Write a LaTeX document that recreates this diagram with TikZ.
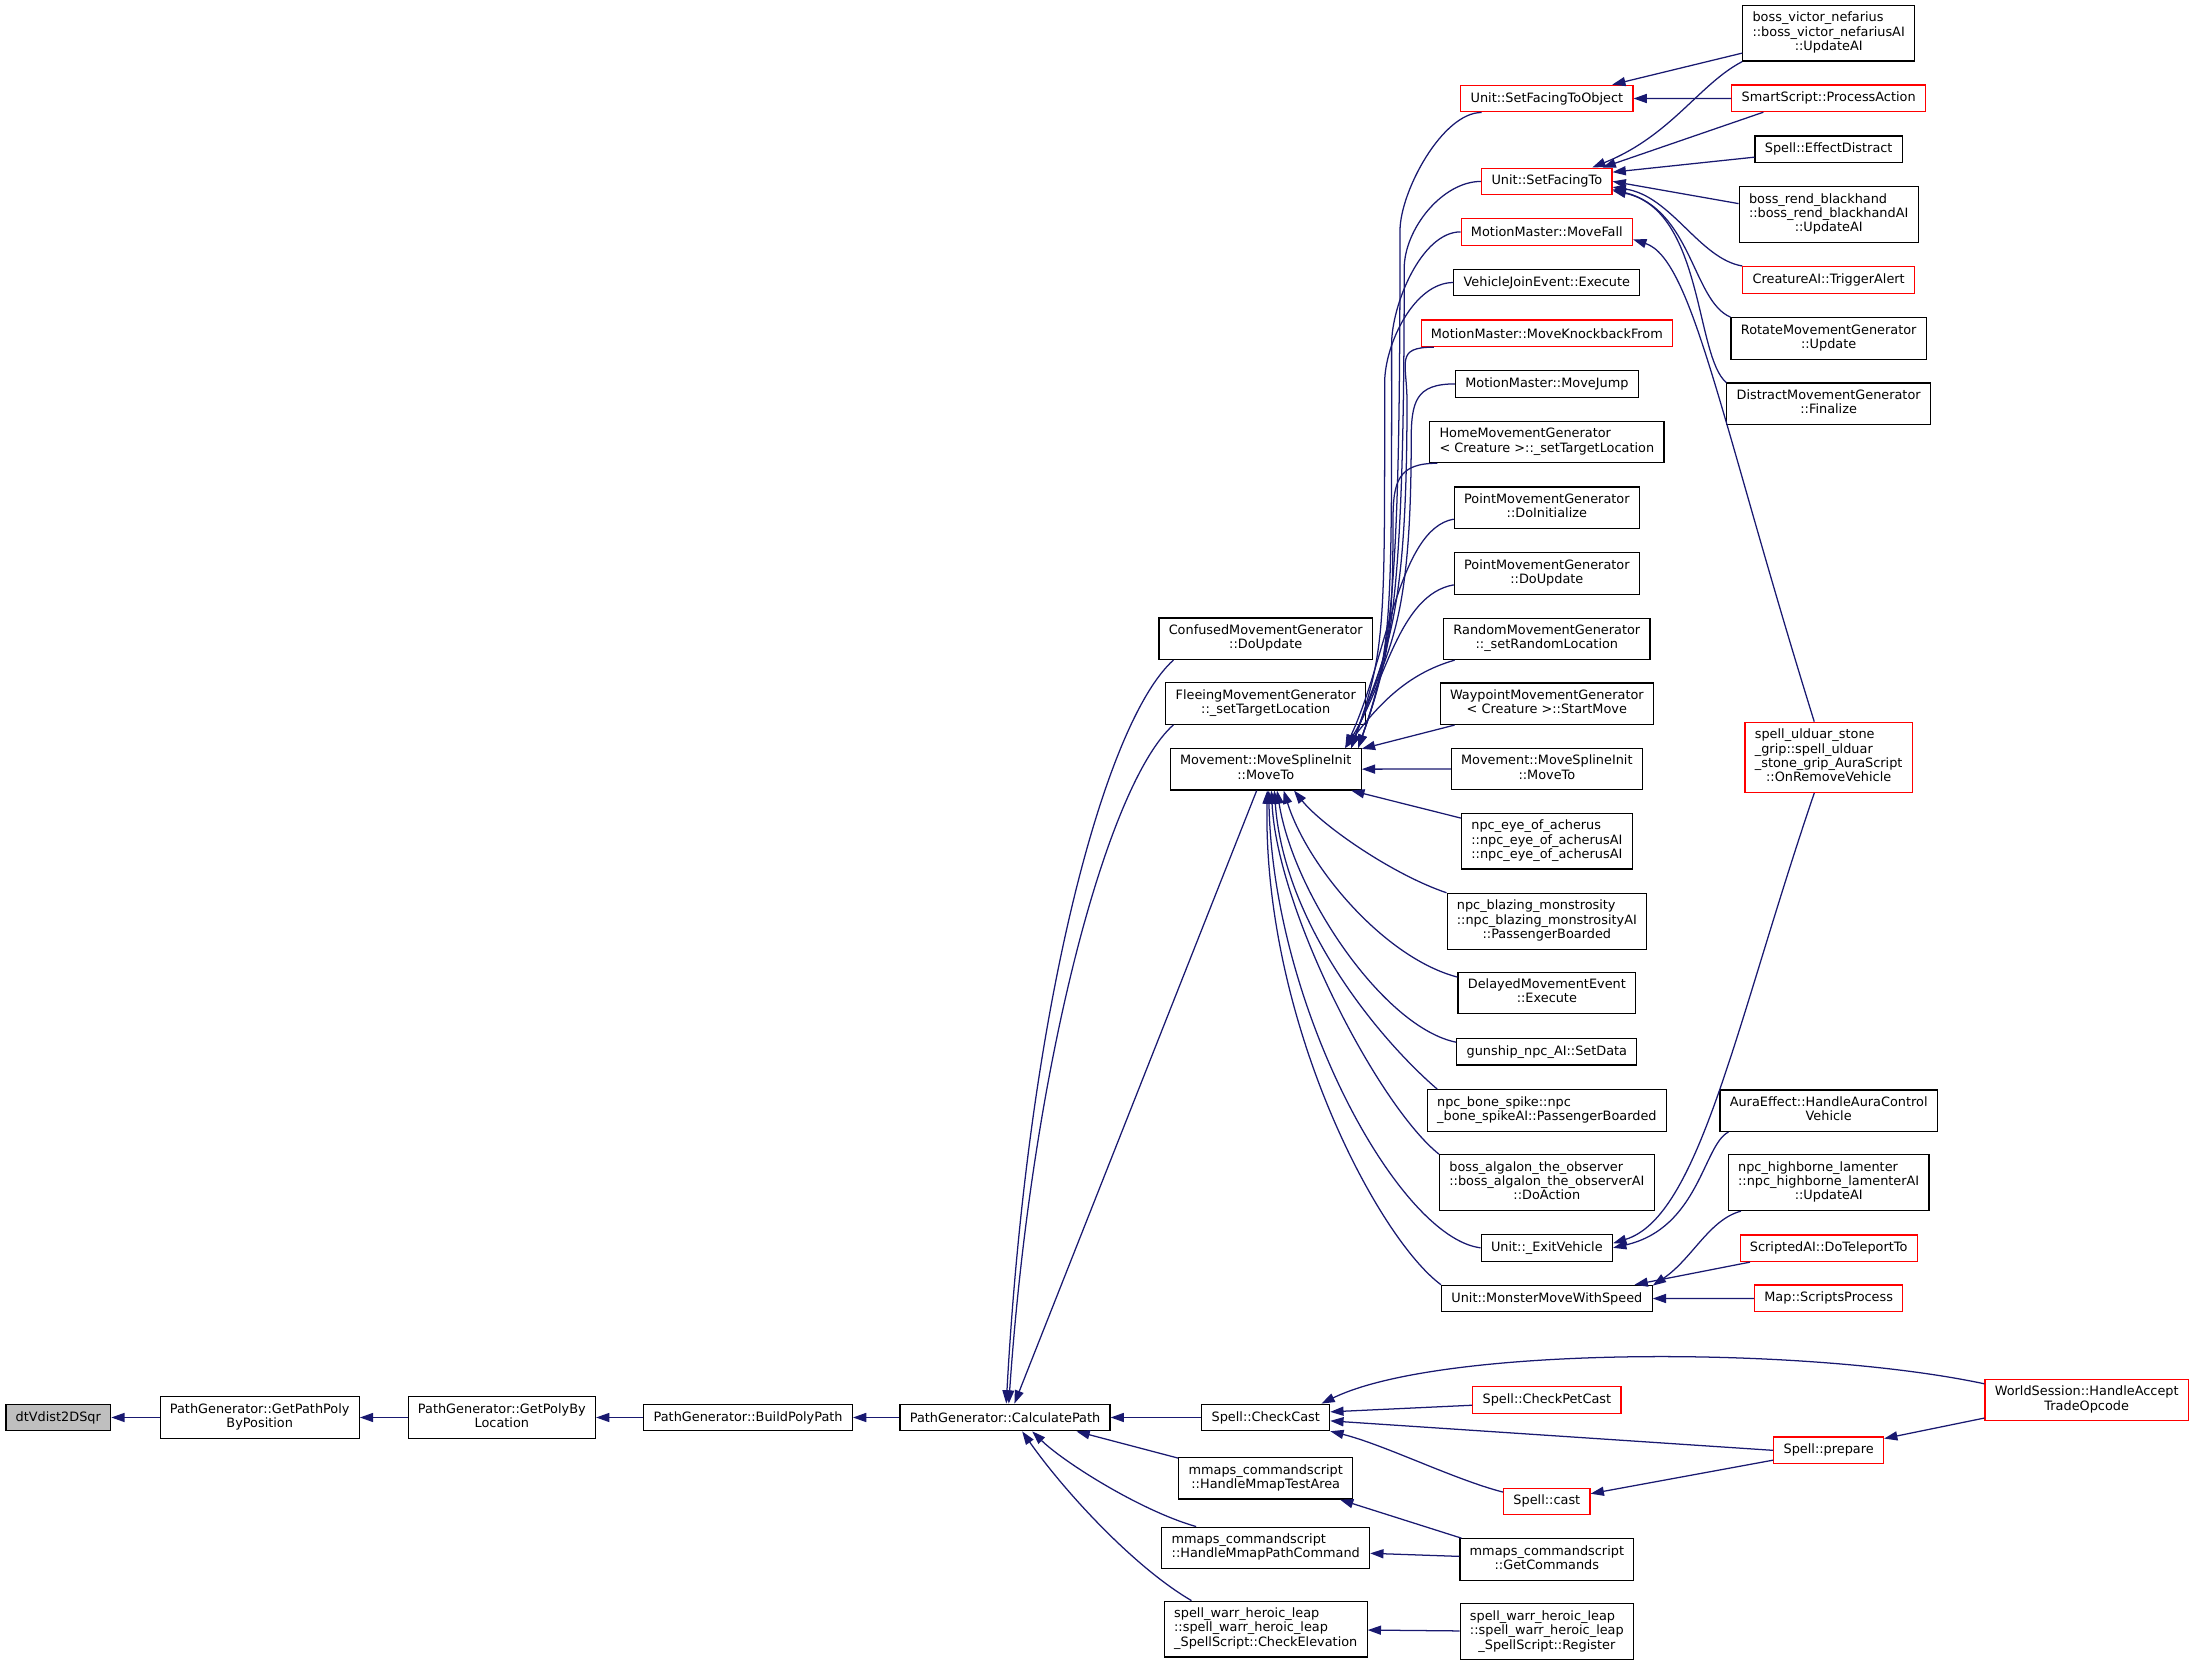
\documentclass[tikz,border=0pt]{standalone}
\usepackage{fontspec}
\newfontfamily\dxsans{DejaVu Sans}
\usetikzlibrary{arrows.meta}
\definecolor{edgeblue}{RGB}{25,25,112}
\definecolor{rootgray}{RGB}{191,191,191}
% first lines flush left, last line centred
\newcommand{\lbl}[2]{\begin{tabular}{@{}l@{}}#1\\\multicolumn{1}{@{}c@{}}{#2}\end{tabular}}

\begin{document}
\begin{tikzpicture}[x=1pt,y=-1pt]
\tikzstyle{block} = [rectangle, draw=black, line width=0.85pt, inner xsep=7pt, inner ysep=4.5pt, minimum height=19pt, font=\dxsans\fontsize{9.2}{10.3}\selectfont]
\tikzstyle{trunc} = [draw=red]
\tikzstyle{arrow} = [draw=edgeblue, line width=0.9pt, ->, >={Triangle[length=9.5pt,width=6.5pt]}]

\useasboundingbox (0,0) rectangle (1568,1190.5);

% call chain
\node (root) [block, fill=rootgray] at (41.7,1013.5) {dtVdist2DSqr};
\node (gpp) [block] at (185.7,1013.5) {\lbl{PathGenerator::GetPathPoly}{ByPosition}};
\node (gpb) [block] at (358.8,1013.5) {\lbl{PathGenerator::GetPolyBy}{Location}};
\node (bpp) [block] at (534.9,1013.5) {PathGenerator::BuildPolyPath};
\node (cpath) [block] at (718.6,1013.5) {PathGenerator::CalculatePath};

% callers of CalculatePath
\node (confused) [block] at (905,456.7) {\lbl{ConfusedMovementGenerator}{::DoUpdate}};
\node (fleeing) [block] at (905,503) {\lbl{FleeingMovementGenerator}{::\_setTargetLocation}};
\node (mvl) [block] at (905,550) {\lbl{Movement::MoveSplineInit}{::MoveTo}};
\node (checkcast) [block] at (905,1013.5) {Spell::CheckCast};
\node (mmtest) [block] at (905,1057) {\lbl{mmaps\_commandscript}{::HandleMmapTestArea}};
\node (mmpath) [block] at (905,1106.7) {\lbl{mmaps\_commandscript}{::HandleMmapPathCommand}};
\node (swcheck) [block] at (905,1164.8) {\lbl{spell\_warr\_heroic\_leap\\::spell\_warr\_heroic\_leap}{\_SpellScript::CheckElevation}};

% callers of MoveTo
\node (sfo) [block, trunc] at (1106,70.5) {Unit::SetFacingToObject};
\node (sft) [block, trunc] at (1106,129.7) {Unit::SetFacingTo};
\node (movefall) [block, trunc] at (1106,165.8) {MotionMaster::MoveFall};
\node (vje) [block] at (1106,202) {VehicleJoinEvent::Execute};
\node (knock) [block, trunc] at (1106,238.3) {MotionMaster::MoveKnockbackFrom};
\node (jump) [block] at (1106,274.5) {MotionMaster::MoveJump};
\node (home) [block] at (1106,316) {\lbl{HomeMovementGenerator}{< Creature >::\_setTargetLocation}};
\node (pinit) [block] at (1106,363) {\lbl{PointMovementGenerator}{::DoInitialize}};
\node (pupd) [block] at (1106,410) {\lbl{PointMovementGenerator}{::DoUpdate}};
\node (random) [block] at (1106,456.8) {\lbl{RandomMovementGenerator}{::\_setRandomLocation}};
\node (waypoint) [block] at (1106,503.2) {\lbl{WaypointMovementGenerator}{< Creature >::StartMove}};
\node (mvr) [block] at (1106,549.8) {\lbl{Movement::MoveSplineInit}{::MoveTo}};
\node (eye) [block] at (1106,601.4) {\lbl{npc\_eye\_of\_acherus\\::npc\_eye\_of\_acherusAI}{::npc\_eye\_of\_acherusAI}};
\node (blazing) [block] at (1106,658.7) {\lbl{npc\_blazing\_monstrosity\\::npc\_blazing\_monstrosityAI}{::PassengerBoarded}};
\node (delayed) [block] at (1106,709.9) {\lbl{DelayedMovementEvent}{::Execute}};
\node (gunship) [block] at (1106,752) {gunship\_npc\_AI::SetData};
\node (bonespike) [block] at (1106,794) {\lbl{npc\_bone\_spike::npc}{\_bone\_spikeAI::PassengerBoarded}};
\node (algalon) [block] at (1106,845.6) {\lbl{boss\_algalon\_the\_observer\\::boss\_algalon\_the\_observerAI}{::DoAction}};
\node (exitveh) [block] at (1106,892.2) {Unit::\_ExitVehicle};
\node (monster) [block] at (1106,928.5) {Unit::MonsterMoveWithSpeed};
\node (petcast) [block, trunc] at (1106,1001) {Spell::CheckPetCast};
\node (cast) [block, trunc] at (1106,1073.5) {Spell::cast};
\node (mmget) [block] at (1106,1115) {\lbl{mmaps\_commandscript}{::GetCommands}};
\node (swreg) [block] at (1106,1166.7) {\lbl{spell\_warr\_heroic\_leap\\::spell\_warr\_heroic\_leap}{\_SpellScript::Register}};

% outer callers
\node (bvn) [block] at (1307.5,23.7) {\lbl{boss\_victor\_nefarius\\::boss\_victor\_nefariusAI}{::UpdateAI}};
\node (smart) [block, trunc] at (1307.5,70.3) {SmartScript::ProcessAction};
\node (effd) [block] at (1307.5,106.8) {Spell::EffectDistract};
\node (brb) [block] at (1307.5,153.5) {\lbl{boss\_rend\_blackhand\\::boss\_rend\_blackhandAI}{::UpdateAI}};
\node (trig) [block, trunc] at (1307.5,200.1) {CreatureAI::TriggerAlert};
\node (rot) [block] at (1307.5,242) {\lbl{RotateMovementGenerator}{::Update}};
\node (distr) [block] at (1307.5,288.7) {\lbl{DistractMovementGenerator}{::Finalize}};
\node (uld) [block, trunc] at (1307.5,541.5) {\lbl{spell\_ulduar\_stone\\\_grip::spell\_ulduar\\\_stone\_grip\_AuraScript}{::OnRemoveVehicle}};
\node (aura) [block] at (1307.5,794.2) {\lbl{AuraEffect::HandleAuraControl}{Vehicle}};
\node (highb) [block] at (1307.5,845.6) {\lbl{npc\_highborne\_lamenter\\::npc\_highborne\_lamenterAI}{::UpdateAI}};
\node (scripted) [block, trunc] at (1307.5,892.5) {ScriptedAI::DoTeleportTo};
\node (mapsp) [block, trunc] at (1307.5,928.3) {Map::ScriptsProcess};
\node (prep) [block, trunc] at (1307.5,1037) {Spell::prepare};
\node (world) [block, trunc] at (1492,1001) {\lbl{WorldSession::HandleAccept}{TradeOpcode}};

% chain
\draw [arrow] (gpp) -- (root);
\draw [arrow] (gpb) -- (gpp);
\draw [arrow] (bpp) -- (gpb);
\draw [arrow] (cpath) -- (bpp);

% into CalculatePath
\draw [arrow] (confused.-167) .. controls (790,516) and (735,720) .. (cpath.85);
\draw [arrow] (fleeing.-167) .. controls (792,560) and (738,760) .. (cpath.75);
\draw [arrow] (mvl.-113) -- (cpath.56);
\draw [arrow] (checkcast) -- (cpath);
\draw [arrow] (mmtest.167) -- (cpath.-11);
\draw [arrow] (mmpath.163) .. controls (815,1080) and (760,1045) .. (cpath.-27);
\draw [arrow] (swcheck.159) .. controls (810,1120) and (760,1065) .. (cpath.-39);

% into MoveTo, upper bundle
\foreach \s/\a/\xv/\yv/\l/\e in {sfo/-168/1001/165/250/13, sft/180/1004/192/230/13, movefall/180/995/246/190/13, vje/180/990/274/170/14, knock/-173/1006/287/160/14, jump/180/1009/315/140/14, home/-169/996/372/100/14}
  \draw [arrow] (\s.\a) .. controls +(-28,0) and +(0,-28) .. (\xv,\yv) .. controls +(0,\l) and +(25,-70) .. (mvl.\e);
\draw [arrow] (pinit.-173) .. controls (1000,378) and (992,470) .. (mvl.15);
\draw [arrow] (pupd.-173) .. controls (1000,425) and (990,490) .. (mvl.15);
\draw [arrow] (random.-167) .. controls (1005,482) and (985,505) .. (mvl.15);
\draw [arrow] (waypoint.-167) -- (mvl.12);
\draw [arrow] (mvr) -- (mvl);

% into MoveTo, lower bundle
\draw [arrow] (eye.165) -- (mvl.-14);
\draw [arrow] (blazing.north west) .. controls (995,625) and (945,590) .. (mvl.-37);
\draw [arrow] (delayed.170) .. controls (990,685) and (935,620) .. (mvl.-50);
\draw [arrow] (gunship.174) .. controls (990,735) and (925,640) .. (mvl.-62);
\draw [arrow] (bonespike.169) .. controls (985,742) and (918,660) .. (mvl.-68);
\draw [arrow] (algalon.north west) .. controls (985,790) and (913,650) .. (mvl.-75);
\draw [arrow] (exitveh.west) .. controls (1000,885) and (910,720) .. (mvl.-82);
\draw [arrow] (monster.north west) .. controls (985,885) and (903,730) .. (mvl.-86);

% SetFacingToObject and SetFacingTo
\draw [arrow] (bvn.-167) -- (sfo.12);
\draw [arrow] (smart) -- (sfo);
\draw [arrow] (bvn.south west) .. controls (1215,60) and (1195,97) .. (sft.17);
\draw [arrow] (smart.-168) -- (sft.14);
\draw [arrow] (effd.-174) -- (sft.8);
\draw [arrow] (brb.173) -- (sft.east);
\draw [arrow] (trig.north west) .. controls (1215,185) and (1195,140) .. (sft.-5);
\draw [arrow] (rot.north west) .. controls (1210,215) and (1210,150) .. (sft.-7);
\draw [arrow] (distr.north west) .. controls (1212,255) and (1218,150) .. (sft.-8);

% vehicle and speed
\draw [arrow] (uld.112) .. controls (1230,300) and (1210,185) .. (movefall.-5);
\draw [arrow] (uld.-112) .. controls (1241,732) and (1215,870) .. (exitveh.4);
\draw [arrow] (aura.-168) .. controls (1218,818) and (1215,878) .. (exitveh.0);
\draw [arrow] (highb.-162) .. controls (1222,872) and (1210,900) .. (monster.7);
\draw [arrow] (scripted.-170) -- (monster.9);
\draw [arrow] (mapsp) -- (monster);

% CheckCast and friends
\draw [arrow] (world.171) .. controls (1290,962) and (1030,962) .. (checkcast.14);
\draw [arrow] (petcast.-176) -- (checkcast.5);
\draw [arrow] (prep.west) -- (checkcast.-3);
\draw [arrow] (cast.168) .. controls (1040,1058) and (990,1033) .. (checkcast.-12);
\draw [arrow] (world.-170) -- (prep.12);
\draw [arrow] (prep.190) -- (cast.10);
\draw [arrow] (mmget.166) -- (mmtest.-16);
\draw [arrow] (mmget.178) -- (mmpath.-3);
\draw [arrow] (swreg) -- (swcheck);
\end{tikzpicture}
\end{document}
